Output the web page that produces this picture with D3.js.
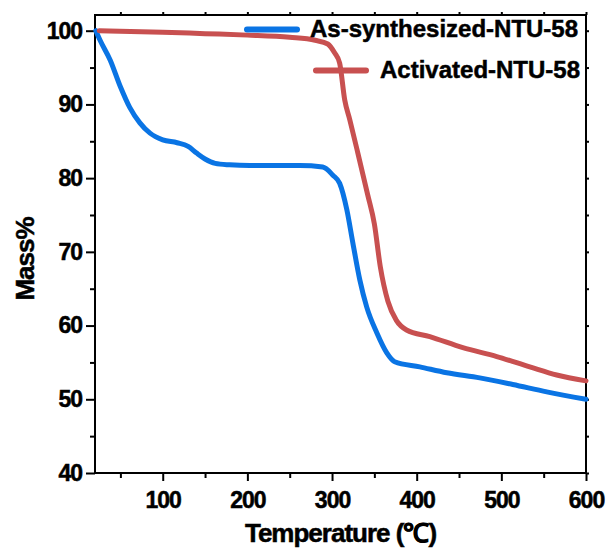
<!DOCTYPE html>
<html><head><meta charset="utf-8">
<script src="https://cdn.jsdelivr.net/npm/d3@7"></script>
<style>body{margin:0;background:#fff}svg{display:block}text{font-family:"Liberation Sans",Arial,sans-serif;font-weight:bold;fill:#000;stroke:#000;stroke-width:0.5px}</style>
</head><body><svg id="c" width="608" height="550"></svg>
<script>
const seriesNames = ["As-synthesized-NTU-58", "Activated-NTU-58"];
const seriesColors = ["#0a74e4", "#c85050"];
const asTemp = [21, 26, 38, 50, 61, 73, 85, 100, 117, 130, 140, 150, 162, 179, 203, 262, 289, 301, 309, 317.5, 324.6, 332.8, 341, 353, 364.7, 374, 403.7, 435.6, 474.5, 513.5, 553.6, 600];
const asMass = [100, 98.7, 96.0, 92.4, 89.6, 87.5, 86.1, 85.2, 84.8, 84.3, 83.4, 82.6, 82.0, 81.8, 81.7, 81.7, 81.5, 80.4, 79.3, 75.7, 71.2, 66.2, 62.5, 59.0, 56.3, 55.1, 54.4, 53.6, 52.9, 52.0, 51.0, 50.0];
const actTemp = [25, 100, 150, 200, 250, 280, 295, 303, 309, 315, 321, 330.5, 342, 350, 357, 366, 376, 388, 415.5, 454.5, 494.6, 533.6, 565.4, 600];
const actMass = [100, 99.8, 99.6, 99.4, 99.1, 98.7, 98.2, 97.0, 95.6, 90.6, 87.9, 83.4, 77.8, 73.8, 68.0, 63.3, 60.7, 59.4, 58.5, 57.0, 55.8, 54.4, 53.3, 52.5];
const xTicks = [100, 200, 300, 400, 500, 600];
const xMinor = [50, 150, 250, 350, 450, 550];
const yTicks = [40, 50, 60, 70, 80, 90, 100];
const yMinor = [45, 55, 65, 75, 85, 95];
const xTitle = "Temperature (\u2103)";
const yTitle = "Mass%";

const svg = d3.select("#c");
const L = 95, R = 586, T = 15, B = 473;
const x = d3.scaleLinear().domain([20, 600]).range([L, R]);
const y = d3.scaleLinear().domain([40, 102.13]).range([B, T]);

const g = svg.append("g");
g.append("rect").attr("x", L).attr("y", T).attr("width", R - L).attr("height", B - T)
  .attr("fill", "none").attr("stroke", "#000").attr("stroke-width", 2);

function styleAxis(sel) {
  sel.select(".domain").remove();
  sel.selectAll("line").attr("stroke", "#000").attr("stroke-width", 2);
  sel.selectAll("text").style("font-size", "23px").style("letter-spacing", "-1px");
}
g.append("g").attr("transform", `translate(0,${B})`)
  .call(d3.axisBottom(x).tickValues(xTicks).tickSize(8).tickPadding(6).tickFormat(d3.format("d")))
  .call(styleAxis).call(s => s.selectAll("text").attr("dy", "0.9em"));
g.append("g").attr("transform", `translate(0,${B})`)
  .call(d3.axisBottom(x).tickValues(xMinor).tickSize(5).tickFormat(""))
  .call(styleAxis);
g.append("g").attr("transform", `translate(${L},0)`)
  .call(d3.axisLeft(y).tickValues(yTicks).tickSize(9).tickPadding(4).tickFormat(d3.format("d")))
  .call(styleAxis);
g.append("g").attr("transform", `translate(${L},0)`)
  .call(d3.axisLeft(y).tickValues(yMinor).tickSize(5).tickFormat(""))
  .call(styleAxis);
g.append("g").attr("transform", `translate(0,${T})`)
  .call(d3.axisTop(x).tickValues(xTicks.concat(xMinor)).tickSize(3).tickFormat(""))
  .call(styleAxis);
g.append("g").attr("transform", `translate(${R},0)`)
  .call(d3.axisRight(y).tickValues(yTicks.concat(yMinor)).tickSize(3).tickFormat(""))
  .call(styleAxis);

const data = [
  asTemp.map((t, i) => [t, asMass[i]]),
  actTemp.map((t, i) => [t, actMass[i]])
];
const line = d3.line().x(d => x(d[0])).y(d => y(d[1])).curve(d3.curveMonotoneX);
[0, 1].forEach(i => {
  g.append("path").datum(data[i]).attr("d", line).attr("fill", "none")
    .attr("stroke", seriesColors[i]).attr("stroke-width", 5)
    .attr("stroke-linejoin", "round").attr("stroke-linecap", "round");
});

const leg = [
  {x1: 247, x2: 297, y: 29.5, tx: 310, ty: 37},
  {x1: 316, x2: 366, y: 70.5, tx: 380, ty: 78}
];
leg.forEach((p, i) => {
  g.append("line").attr("x1", p.x1).attr("x2", p.x2).attr("y1", p.y).attr("y2", p.y)
    .attr("stroke", seriesColors[i]).attr("stroke-width", 6).attr("stroke-linecap", "round");
  g.append("text").attr("x", p.tx).attr("y", p.ty).text(seriesNames[i])
    .style("font-size", "24px").style("letter-spacing", "0px");
});

g.append("text").attr("x", (L + R) / 2).attr("y", 542).attr("text-anchor", "middle")
  .style("font-size", "26px").style("letter-spacing", "-1px").text(xTitle);
g.append("text").attr("transform", "translate(34,259) rotate(-90)").attr("text-anchor", "middle")
  .style("font-size", "26px").style("letter-spacing", "-1px").text(yTitle);
</script></body></html>
